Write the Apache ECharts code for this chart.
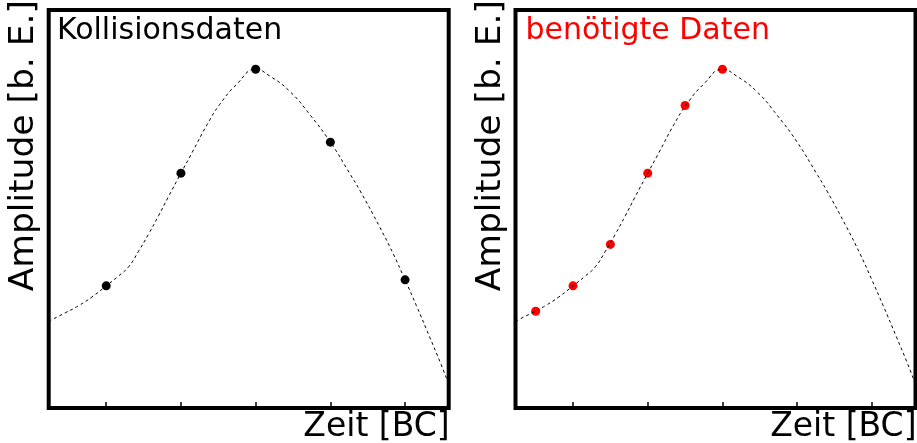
<!DOCTYPE html>
<html>
<head>
<meta charset="utf-8">
<script src="https://cdn.jsdelivr.net/npm/echarts@6/dist/echarts.min.js"></script>
<style>
html,body{margin:0;padding:0;background:#fff;}
#chart{width:917px;height:443px;}
</style>
</head>
<body>
<div id="chart"></div>
<script>
// Pulse shape (dashed curve), time in BC, amplitude in arbitrary units
const curveX = [0.23, 0.45, 0.63, 0.81, 1.00, 1.16, 1.30, 1.43, 1.57, 1.70, 1.83, 2.00, 2.15, 2.35, 2.52, 2.75, 3.00, 3.19, 3.46, 3.73, 4.00, 4.26, 4.40, 4.66, 4.84, 5.00, 5.15, 5.33, 5.47, 5.584];
const curveY = [21.8, 23.9, 25.7, 27.9, 30.7, 33.1, 35.5, 39.3, 43.8, 48.3, 53.0, 59.0, 64.2, 71.2, 76.3, 81.4, 85.1, 83.4, 79.5, 73.6, 66.8, 58.9, 54.5, 45.5, 38.8, 32.2, 25.8, 17.8, 11.5, 6.0];
// Collision data (left panel)
const collisionX = [1, 2, 3, 4, 5];
const collisionY = [30.7, 59.0, 85.1, 66.8, 32.2];
// Needed data (right panel)
const neededX = [0.5, 1, 1.5, 2, 2.5, 3];
const neededY = [24.3, 30.7, 41.1, 59.0, 76.0, 85.1];
// Tick positions on time axis
const tickValues = [1, 2, 3, 4, 5];
const xMin = 0.23, xMax = 5.584, yMin = 0, yMax = 100;
const panelTitles = ['Kollisionsdaten', 'benötigte Daten'];
const xName = 'Zeit [BC]';
const yName = 'Amplitude [b. E.]';

const font = 'DejaVu Sans';
const zip = (xs, ys) => xs.map((x, i) => [x, ys[i]]);

const chart = echarts.init(document.getElementById('chart'), null, {renderer: 'canvas'});

function makeX(i) {
  return {
    type: 'value', gridIndex: i, min: xMin, max: xMax,
    axisLine: {show: false}, splitLine: {show: false},
    axisLabel: {show: false},
    axisTick: {show: true, inside: true, length: 6, lineStyle: {color: '#000', width: 1.5}, customValues: tickValues},
    name: xName, nameLocation: 'end', nameGap: 1,
    nameTextStyle: {fontFamily: font, fontSize: 33, color: '#000', align: 'right', verticalAlign: 'top', padding: [3, 0, 0, 0]}
  };
}
function makeY(i) {
  return {
    type: 'value', gridIndex: i, min: yMin, max: yMax, offset: 7,
    axisLine: {show: false}, splitLine: {show: false},
    axisLabel: {show: false}, axisTick: {show: false},
    name: yName, nameLocation: 'end', nameRotate: 90, nameGap: 10,
    nameTextStyle: {fontFamily: font, fontSize: 34.5, color: '#000', align: 'right', verticalAlign: 'bottom'}
  };
}
const gridBase = {show: true, borderColor: '#000', borderWidth: 4, backgroundColor: 'transparent', containLabel: false, outerBoundsMode: 'none'};

const option = {
  animation: false,
  textStyle: {fontFamily: font},
  title: [
    {text: panelTitles[0], left: 57, top: 16, padding: 0, textStyle: {fontFamily: font, fontSize: 30, fontWeight: 'normal', color: '#000'}},
    {text: panelTitles[1], left: 525.5, top: 16, padding: 0, textStyle: {fontFamily: font, fontSize: 30, fontWeight: 'normal', color: '#ff0000'}}
  ],
  grid: [
    Object.assign({left: 48.7, top: 10, width: 400, height: 398}, gridBase),
    Object.assign({left: 515.5, top: 10, width: 400, height: 398}, gridBase)
  ],
  xAxis: [makeX(0), makeX(1)],
  yAxis: [makeY(0), makeY(1)],
  series: [
    {type: 'scatter', xAxisIndex: 0, yAxisIndex: 0, data: zip(collisionX, collisionY), symbolSize: 9, itemStyle: {color: '#000', opacity: 1}},
    {type: 'line', xAxisIndex: 0, yAxisIndex: 0, data: zip(curveX, curveY), smooth: 0.5, showSymbol: false, lineStyle: {color: '#000', width: 1, type: [3, 3]}},
    {type: 'scatter', xAxisIndex: 1, yAxisIndex: 1, data: zip(neededX, neededY), symbolSize: 9, itemStyle: {color: '#ff0000', opacity: 1}},
    {type: 'line', xAxisIndex: 1, yAxisIndex: 1, data: zip(curveX, curveY), smooth: 0.5, showSymbol: false, lineStyle: {color: '#000', width: 1, type: [3, 3]}}
  ]
};
chart.setOption(option);
</script>
</body>
</html>
